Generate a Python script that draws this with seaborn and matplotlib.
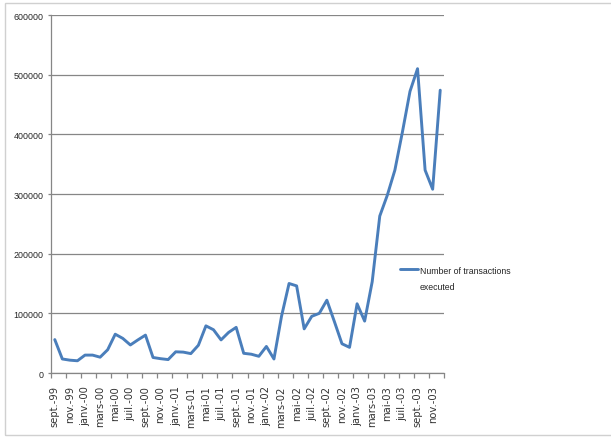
import matplotlib
matplotlib.use("Agg")
import matplotlib.pyplot as plt
from matplotlib.patches import Rectangle
import numpy as np
import seaborn as sns

# monthly data, sept-99 .. dec-03
months = ["sept.-99", "oct.-99", "nov.-99", "déc.-99",
          "janv.-00", "févr.-00", "mars-00", "avr.-00", "mai-00", "juin-00",
          "juil.-00", "août-00", "sept.-00", "oct.-00", "nov.-00", "déc.-00",
          "janv.-01", "févr.-01", "mars-01", "avr.-01", "mai-01", "juin-01",
          "juil.-01", "août-01", "sept.-01", "oct.-01", "nov.-01", "déc.-01",
          "janv.-02", "févr.-02", "mars-02", "avr.-02", "mai-02", "juin-02",
          "juil.-02", "août-02", "sept.-02", "oct.-02", "nov.-02", "déc.-02",
          "janv.-03", "févr.-03", "mars-03", "avr.-03", "mai-03", "juin-03",
          "juil.-03", "août-03", "sept.-03", "oct.-03", "nov.-03", "déc.-03"]

transactions = [56000, 23500, 21500, 20500, 30000, 30000, 26500, 39000, 65000, 58000,
                47000, 55500, 63500, 26000, 24000, 22500, 35500, 35000, 32500, 46500,
                79000, 72500, 55500, 68000, 76500, 33000, 31500, 28000, 44500, 23500,
                95000, 150000, 146000, 74000, 95000, 100000, 122000, 86000, 49000, 43000,
                116000, 87000, 153000, 263000, 298000, 340000, 404000, 472000, 510000, 340000,
                308000, 474000]

yticks = [0, 100000, 200000, 300000, 400000, 500000, 600000]

sns.set_style("white")
plt.rcParams['font.family'] = ['Liberation Sans', 'DejaVu Sans']

grey = '#868686'
W, H = 611, 439
fig = plt.figure(figsize=(W / 100, H / 100), dpi=100)
ax = fig.add_axes([51 / W, 1 - 374 / H, (444 - 51) / W, (374 - 16) / H])

pos = np.arange(len(months))
sns.lineplot(x=pos, y=transactions, ax=ax, color='#4A7EBB', linewidth=2.1,
             label='Number of transactions', legend=False)

ax.set_xlim(-0.5, len(months) - 0.5)
ax.set_ylim(0, 600000)
ax.set_yticks(yticks)
ax.set_yticklabels([str(v) for v in yticks], fontsize=6.4, color='#262626')
ax.yaxis.grid(True, color=grey, linewidth=0.9)
ax.set_axisbelow(True)

# ticks between every second category, labels on the category itself
ax.set_xticks(np.arange(-0.5, len(months), 2))
ax.set_xticklabels([])
ax.set_xticks(pos[::2], minor=True)
ax.set_xticklabels(months[::2], minor=True, rotation=90, fontsize=7.2,
                   family='DejaVu Sans', color='#333333', va='top')
ax.tick_params(axis='x', which='major', length=3.5, color=grey, width=0.9,
               direction='out', bottom=True)
ax.tick_params(axis='x', which='minor', length=0, pad=8.8)
ax.tick_params(axis='y', length=2.5, color=grey, width=0.9, pad=3, left=True)

for s in ['top', 'right']:
    ax.spines[s].set_visible(False)
for s in ['left', 'bottom']:
    ax.spines[s].set_color(grey)
    ax.spines[s].set_linewidth(0.9)

ax.legend(loc='center left', bbox_to_anchor=(400 / W, 1 - 271 / H),
          bbox_transform=fig.transFigure, frameon=False, fontsize=6.3,
          handlelength=2.1, handletextpad=0.15, borderpad=0, borderaxespad=0,
          labelcolor='#262626')
fig.text(420 / W, 1 - 288 / H, 'executed', fontsize=6.3, color='#262626',
         va='center', ha='left')

# chart border
fig.patches.append(Rectangle((4.5 / W, 3.5 / H), 1.2, 1 - 7 / H, transform=fig.transFigure,
                             fill=False, edgecolor='#d0d0d0', linewidth=1.0))

fig.savefig('out.png', dpi=100)
